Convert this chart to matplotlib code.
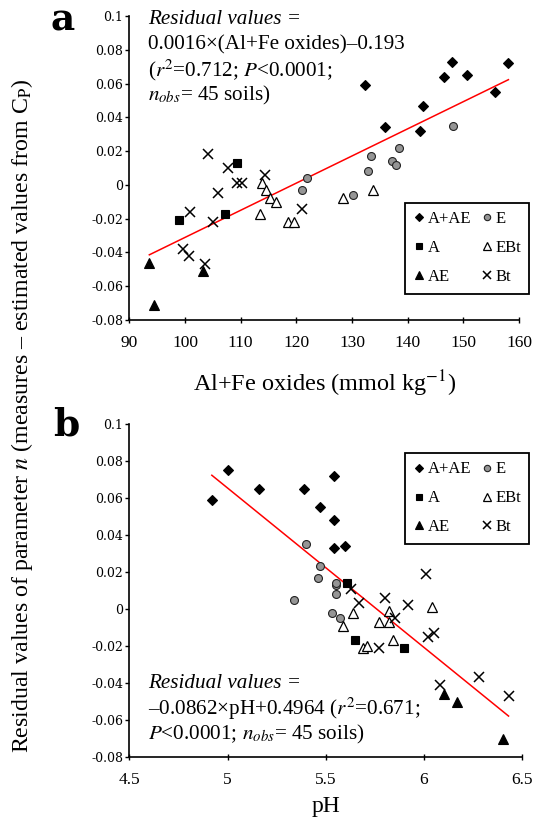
import matplotlib
matplotlib.use("Agg")
import matplotlib.pyplot as plt
from matplotlib.lines import Line2D

plt.rcParams['font.family'] = ['Liberation Serif', 'DejaVu Serif']
plt.rcParams['mathtext.fontset'] = 'stix'

# ---------------- Panel a data: Al+Fe oxides (mmol/kg) vs residual ----------------
a_AAE_x = [132.4, 135.9, 142.2, 142.8, 146.5, 147.9, 150.7, 155.7, 158.1]
a_AAE_y = [0.059, 0.034, 0.032, 0.047, 0.064, 0.073, 0.065, 0.055, 0.072]
a_E_x = [121.0, 121.9, 130.2, 132.8, 133.4, 137.1, 137.9, 138.4, 148.1]
a_E_y = [-0.003, 0.004, -0.006, 0.008, 0.017, 0.014, 0.012, 0.022, 0.035]
a_A_x = [98.9, 107.2, 109.3]
a_A_y = [-0.021, -0.017, 0.013]
a_EBt_x = [113.4, 113.9, 114.6, 115.3, 116.4, 118.5, 119.5, 128.3, 133.7]
a_EBt_y = [-0.017, 0.001, -0.003, -0.008, -0.010, -0.022, -0.022, -0.008, -0.003]
a_AE_x = [93.6, 103.3, 94.4]
a_AE_y = [-0.046, -0.051, -0.071]
a_Bt_x = [104.2, 107.8, 109.4, 110.2, 105.9, 100.9, 105.1, 99.6, 100.7, 103.6, 114.4, 121.0]
a_Bt_y = [0.018, 0.010, 0.001, 0.001, -0.005, -0.016, -0.022, -0.038, -0.042, -0.047, 0.006, -0.014]
a_fit_x = [93.6, 158.1]
a_fit_y = [-0.0414, 0.0623]

# ---------------- Panel b data: pH vs residual ----------------
b_AAE_x = [4.92, 5.00, 5.16, 5.39, 5.47, 5.54, 5.54, 5.54, 5.60]
b_AAE_y = [0.059, 0.075, 0.065, 0.065, 0.055, 0.048, 0.072, 0.033, 0.034]
b_E_x = [5.34, 5.40, 5.46, 5.47, 5.53, 5.55, 5.55, 5.55, 5.57]
b_E_y = [0.005, 0.035, 0.017, 0.023, -0.002, 0.008, 0.013, 0.014, -0.005]
b_A_x = [5.61, 5.65, 5.90]
b_A_y = [0.014, -0.017, -0.021]
b_EBt_x = [5.59, 5.64, 5.69, 5.71, 5.77, 5.82, 5.82, 5.84, 6.04]
b_EBt_y = [-0.009, -0.002, -0.021, -0.020, -0.007, -0.007, -0.001, -0.017, 0.001]
b_AE_x = [6.10, 6.17, 6.40]
b_AE_y = [-0.046, -0.050, -0.070]
b_Bt_x = [5.63, 5.67, 5.77, 5.80, 5.85, 5.92, 6.01, 6.02, 6.05, 6.08, 6.28, 6.43]
b_Bt_y = [0.011, 0.003, -0.021, 0.006, -0.005, 0.002, 0.019, -0.015, -0.013, -0.041, -0.037, -0.047]
b_fit_x = [4.92, 6.43]
b_fit_y = [-0.0862 * 4.92 + 0.4964, -0.0862 * 6.43 + 0.4964]

y_ticks = [0.1, 0.08, 0.06, 0.04, 0.02, 0, -0.02, -0.04, -0.06, -0.08]
y_tick_labels = ['0.1', '0.08', '0.06', '0.04', '0.02', '0', '-0.02', '-0.04', '-0.06', '-0.08']
a_x_ticks = [90, 100, 110, 120, 130, 140, 150, 160]
b_x_ticks = [4.5, 5, 5.5, 6, 6.5]
b_x_tick_labels = ['4.5', '5', '5.5', '6', '6.5']

W, H = 535, 825
fig = plt.figure(figsize=(W / 100, H / 100), dpi=100)

def fx(x):
    return x / W

def fy(y):
    return 1 - y / H

styles = {
    'A+AE': dict(marker='D', color='black', ms=5.0, mfc='black', mec='black', mew=0.8),
    'A': dict(marker='s', color='black', ms=5.5, mfc='black', mec='black', mew=0.8),
    'AE': dict(marker='^', color='black', ms=6.5, mfc='black', mec='black', mew=0.8),
    'E': dict(marker='o', color='black', ms=5.7, mfc='#959595', mec='#222222', mew=0.8),
    'EBt': dict(marker='^', color='black', ms=6.5, mfc='white', mec='black', mew=0.9),
    'Bt': dict(marker='x', color='black', ms=6.5, mec='black', mew=1.1),
}

def setup_axes(ax, xlim, xticks, xticklabels):
    ax.set_xlim(*xlim)
    ax.set_ylim(-0.08, 0.1)
    for s in ['top', 'right']:
        ax.spines[s].set_visible(False)
    for s in ['left', 'bottom']:
        ax.spines[s].set_linewidth(1.2)
    ax.set_yticks(y_ticks)
    ax.set_yticklabels(y_tick_labels, fontfamily='DejaVu Serif', fontsize=9)
    ax.set_xticks(xticks)
    ax.set_xticklabels(xticklabels, fontsize=12.5)
    ax.tick_params(axis='y', direction='out', length=3, width=1, pad=1.5)
    ax.tick_params(axis='x', direction='inout', length=5, width=1, pad=8)

def draw(ax, data, fit_x, fit_y, legend_top):
    for name, (xs, ys) in data.items():
        ax.plot(xs, ys, linestyle='none', **styles[name], zorder=3)
    ax.plot(fit_x, fit_y, color='#ff0000', lw=1.1, zorder=2)
    order = ['A+AE', 'A', 'AE', 'E', 'EBt', 'Bt']
    handles = [Line2D([], [], linestyle='none', **styles[n]) for n in order]
    leg = fig.legend(handles, order, ncol=2, loc='upper left',
                     bbox_to_anchor=(fx(405), fy(legend_top)), bbox_transform=fig.transFigure,
                     borderaxespad=0, fontsize=12, frameon=True, fancybox=False,
                     edgecolor='black', framealpha=1, handlelength=0.7, handletextpad=0.15,
                     columnspacing=0.6, labelspacing=0.78, borderpad=0.5, markerscale=0.8)
    leg.get_frame().set_linewidth(1.3)

# ---------- Panel a ----------
ax1 = fig.add_axes([fx(129.3), fy(320), fx(519 - 129.3), (320 - 16) / H])
setup_axes(ax1, (90, 160), a_x_ticks, [str(t) for t in a_x_ticks])
draw(ax1, {'A+AE': (a_AAE_x, a_AAE_y), 'E': (a_E_x, a_E_y), 'A': (a_A_x, a_A_y),
           'EBt': (a_EBt_x, a_EBt_y), 'AE': (a_AE_x, a_AE_y), 'Bt': (a_Bt_x, a_Bt_y)},
     a_fit_x, a_fit_y, 203)
ax1.set_xlabel('Al+Fe oxides (mmol kg$^{\u22121}$)', fontsize=17.5, labelpad=13)

# ---------- Panel b ----------
ax2 = fig.add_axes([fx(129.3), fy(757), fx(522.3 - 129.3), (757 - 424) / H])
setup_axes(ax2, (4.5, 6.5), b_x_ticks, b_x_tick_labels)
draw(ax2, {'A+AE': (b_AAE_x, b_AAE_y), 'E': (b_E_x, b_E_y), 'A': (b_A_x, b_A_y),
           'EBt': (b_EBt_x, b_EBt_y), 'AE': (b_AE_x, b_AE_y), 'Bt': (b_Bt_x, b_Bt_y)},
     b_fit_x, b_fit_y, 453)
ax2.set_xlabel('pH', fontsize=17, labelpad=6)

# ---------- annotations ----------
tfs = 15.2
fig.text(fx(147.7), fy(20), 'Residual values =', style='italic', fontsize=tfs, va='center')
fig.text(fx(147.7), fy(45), '0.0016\u00d7(Al+Fe oxides)\u20130.193', fontsize=tfs, va='center')
fig.text(fx(147.7), fy(70), '($r^2$=0.712; $P$<0.0001;', fontsize=tfs, va='center')
fig.text(fx(147.7), fy(95), '$n_{obs}$= 45 soils)', fontsize=tfs, va='center')

fig.text(fx(147.7), fy(683), 'Residual values =', style='italic', fontsize=tfs, va='center')
fig.text(fx(147.7), fy(709), '\u20130.0862\u00d7pH+0.4964 ($r^2$=0.671;', fontsize=tfs, va='center')
fig.text(fx(147.7), fy(734), '$P$<0.0001; $n_{obs}$= 45 soils)', fontsize=tfs, va='center')

fig.text(fx(63), fy(20), 'a', fontfamily='DejaVu Serif', fontweight='bold', fontsize=27,
         ha='center', va='center')
fig.text(fx(66), fy(425), 'b', fontfamily='DejaVu Serif', fontweight='bold', fontsize=27,
         ha='center', va='center')

fig.text(fx(22), fy(416), 'Residual values of parameter $n$ (measures \u2013 estimated values from C$_{\\mathrm{P}}$)',
         rotation=90, fontsize=17.2, ha='center', va='center')

fig.savefig('out.png', dpi=100)
